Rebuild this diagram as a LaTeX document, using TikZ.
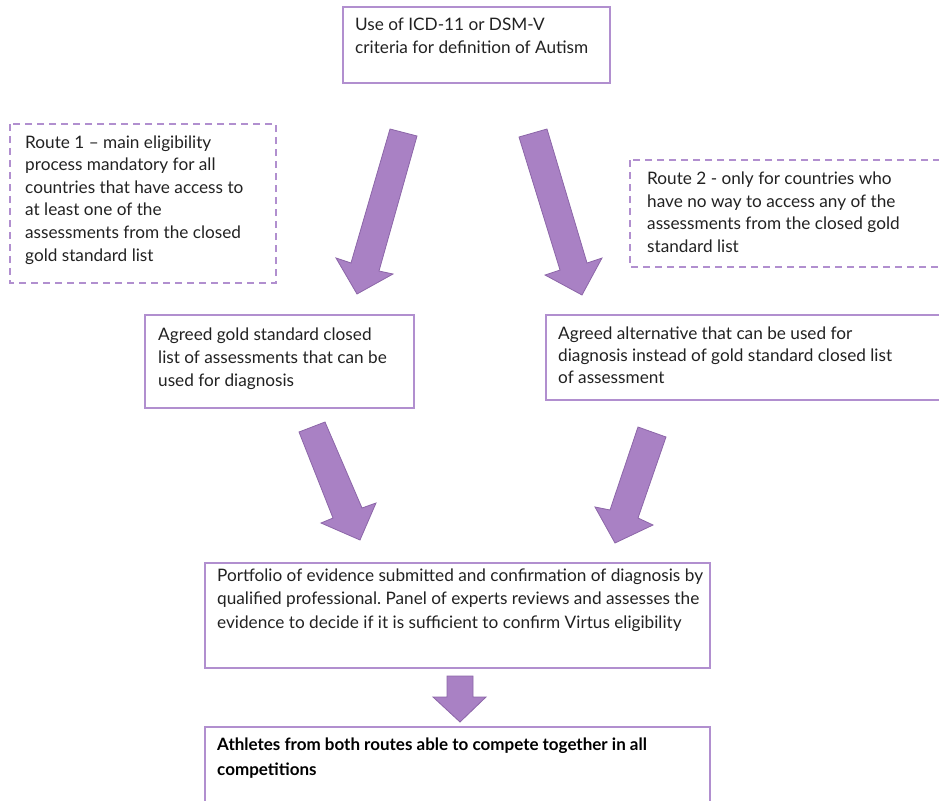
\documentclass[tikz,border=0pt]{standalone}
\usepackage{fontspec}
\setmainfont{Lato}
\frenchspacing
\definecolor{boxline}{HTML}{B18FCF}
\definecolor{arrfill}{HTML}{A981C4}
\definecolor{arrline}{HTML}{8C66A8}
\definecolor{txt}{HTML}{222222}
\begin{document}
\begin{tikzpicture}[x=1pt,y=-1pt,
  box/.style={draw=boxline,line width=1.8pt,fill=white},
  dbox/.style={draw=boxline,line width=1.8pt,dash pattern=on 7pt off 5pt},
  blockarrow/.style={fill=arrfill,draw=arrline,line width=0.8pt,line join=miter},
  label/.style={anchor=base west,align=left,inner sep=0pt,text=txt,font=\fontsize{17.2}{23}\selectfont}]
\useasboundingbox (0,0) rectangle (939,800);
\clip (0,0) rectangle (939,800);
% boxes
\draw[box] (343,7) rectangle (610,83);
\draw[dbox] (10,124) rectangle (276,283);
\draw[dbox] (630,160) rectangle (960,267);
\draw[box] (145,315) rectangle (414,408);
\draw[box] (546,315) rectangle (960,400);
\draw[box] (205,563) rectangle (710,668);
\draw[box] (205,727) rectangle (710,820);
% texts (anchor = baseline of last line)
\node[label] (t1) at (355,54) {Use of ICD-11 or DSM-V\\criteria for definition of Autism};
\node[label,font=\fontsize{17.2}{22.6}\selectfont] (r1) at (25,261) {Route 1 -- main eligibility\\process mandatory for all\\countries that have access to\\at least one of the\\assessments from the closed\\gold standard list};
\node[label,font=\fontsize{17.2}{22.4}\selectfont] (r2) at (647,252) {Route 2 - only for countries who\\have no way to access any of the\\assessments from the closed gold\\standard list};
\node[label] (g1) at (158,386) {Agreed gold standard closed\\list of assessments that can be\\used for diagnosis};
\node[label,font=\fontsize{17.2}{22}\selectfont] (a1) at (558,383) {Agreed alternative that can be used for\\diagnosis instead of gold standard closed list\\of assessment};
\node[label,font=\fontsize{17.2}{23.5}\selectfont] (p1) at (217,628) {Portfolio of evidence submitted and confirmation of diagnosis by\\qualified professional. Panel of experts reviews and assesses the\\evidence to decide if it is sufficient to confirm Virtus eligibility};
\node[label,font=\fontsize{17}{25}\selectfont\bfseries,text=black] (f1) at (217,775) {Athletes from both routes able to compete together in all\\competitions};
% block arrows
\draw[blockarrow] (390,129)--(417,136)--(379,271)--(393,274)--(357,294)--(336,258)--(351,263)--cycle;
\draw[blockarrow] (519,137)--(547,129)--(587,263)--(602,258)--(582,295)--(545,275)--(560,270)--cycle;
\draw[blockarrow] (299,432)--(325,422)--(362,508)--(376,503)--(360,540)--(321,523)--(333,518)--cycle;
\draw[blockarrow] (638,427)--(666,437)--(638,518)--(653,525)--(615,543)--(595,507)--(610,510)--cycle;
\draw[blockarrow] (447,676)--(473,676)--(473,697)--(486,697)--(460,722)--(433,697)--(447,697)--cycle;
\end{tikzpicture}
\end{document}
